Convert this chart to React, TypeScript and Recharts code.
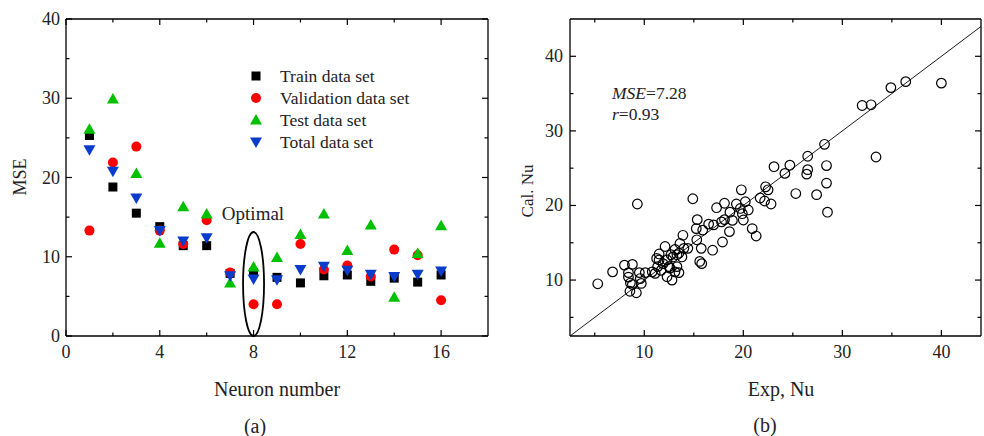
import React from 'react';
import { ScatterChart, Scatter, XAxis, YAxis, ReferenceDot, ReferenceLine } from 'recharts';

// (a) MSE vs neuron number
const neurons = [1, 2, 3, 4, 5, 6, 7, 8, 9, 10, 11, 12, 13, 14, 15, 16];
const trainMse = [25.3, 18.8, 15.5, 13.8, 11.4, 11.4, 7.9, 8.0, 7.4, 6.7, 7.6, 7.7, 6.9, 7.3, 6.8, 7.7];
const validationMse = [13.3, 21.9, 23.9, 13.3, 11.6, 14.6, 8.0, 4.0, 4.0, 11.6, 8.4, 8.9, 7.5, 10.9, 10.2, 4.5];
const testMse = [26.1, 29.9, 20.5, 11.7, 16.3, 15.4, 6.7, 8.7, 9.9, 12.8, 15.4, 10.8, 14.0, 4.9, 10.4, 13.9];
const totalMse = [23.5, 20.8, 17.4, 13.3, 12.0, 12.4, 7.6, 7.2, 7.1, 8.4, 8.8, 8.3, 7.8, 7.5, 7.8, 8.2];
const seriesNames = ['Train data set', 'Validation data set', 'Test data set', 'Total data set'];
const neuronTicks = [0, 2, 4, 6, 8, 10, 12, 14, 16];
const mseTicks = [0, 5, 10, 15, 20, 25, 30, 35, 40];
const optimalNeuron = 8;
const optimalMse = 6.56;

// (b) calculated vs experimental Nu
const expNu = [5.3, 6.8, 8.0, 8.8, 8.4, 9.5, 8.6, 8.55, 9.2, 8.8, 9.7, 9.3, 10.1, 11.1, 11.35, 11.5, 11.25, 12.1, 12.3, 12.3,
  12.6, 12.8, 13.1, 13.5, 13.3, 12.9, 13.1, 13.6, 13.9, 13.8, 13.5, 14.4, 15.3, 15.6, 15.8, 15.75, 15.25, 15.35, 15.9, 14.9,
  16.5, 16.9, 17.3, 17.9, 17.8, 18.1, 18.6, 18.65, 18.9, 18.1, 19.8, 19.7, 20.0, 20.2, 20.5, 19.9, 20.9, 21.3, 21.7, 22.15,
  22.25, 22.5, 22.8, 23.1, 24.2, 24.7, 25.3, 26.5, 26.5, 26.4, 27.4, 28.2, 28.4, 28.4, 28.5, 32.0, 32.9, 33.4, 34.9, 36.4,
  40.0, 11.7, 11.9, 12.5, 12.7, 14.0, 11.5, 10.8, 13.3, 8.4, 9.6, 17.0, 19.3];
const calNu = [9.5, 11.1, 12.0, 12.1, 11.0, 11.0, 9.6, 8.5, 8.3, 9.4, 9.55, 20.2, 11.0, 10.9, 11.8, 13.5, 12.9, 14.5, 12.7, 10.45,
  11.6, 10.0, 11.1, 11.0, 11.8, 13.1, 14.1, 14.9, 16.0, 13.1, 13.6, 14.25, 15.4, 12.5, 12.2, 14.25, 16.9, 18.1, 16.7, 20.9,
  17.5, 14.0, 19.7, 15.1, 17.8, 20.3, 16.5, 19.1, 18.0, 18.1, 22.1, 19.6, 18.05, 20.5, 19.4, 18.9, 16.9, 15.9, 21.0, 20.6,
  22.5, 22.1, 20.2, 25.2, 24.3, 25.4, 21.6, 26.6, 24.8, 24.2, 21.45, 28.2, 25.35, 23.0, 19.1, 33.4, 33.5, 26.5, 35.8, 36.6,
  36.4, 11.3, 12.2, 11.8, 13.4, 14.25, 12.7, 11.1, 13.4, 10.4, 10.2, 17.4, 20.2];
const nuTicks = [5, 10, 15, 20, 25, 30, 35, 40];

const FONT = '"Liberation Serif", "Times New Roman", serif';
const colors = ['#000000', '#ff0000', '#00c000', '#0a3ccc'];

type Side = 'bottom' | 'top' | 'left' | 'right';

function makeTick(side: Side, gap: number, isMajor: (v: number) => boolean, withLabel: boolean) {
  return function AxisTick(props: any) {
    const { x, y, payload } = props;
    const v = Number(payload.value);
    const big = isMajor(v);
    const len = big ? 6 : 3.5;
    let line = null;
    let label = null;
    const textStyle = { fontFamily: FONT, fontSize: 18, fill: '#222' };
    if (side === 'bottom') {
      const ay = y - gap;
      line = <line x1={x} x2={x} y1={ay} y2={ay - len} stroke="#000" strokeWidth={1.2} />;
      if (withLabel && big) label = <text x={x} y={y} textAnchor="middle" dominantBaseline="central" style={textStyle}>{v}</text>;
    } else if (side === 'top') {
      const ay = y + gap;
      line = <line x1={x} x2={x} y1={ay} y2={ay + len} stroke="#000" strokeWidth={1.2} />;
    } else if (side === 'left') {
      const ax = x + gap;
      line = <line x1={ax} x2={ax + len} y1={y} y2={y} stroke="#000" strokeWidth={1.2} />;
      if (withLabel && big) label = <text x={x} y={y} textAnchor="end" dominantBaseline="central" style={textStyle}>{v}</text>;
    } else {
      const ax = x - gap;
      line = <line x1={ax} x2={ax - len} y1={y} y2={y} stroke="#000" strokeWidth={1.2} />;
    }
    return (
      <g>
        {line}
        {label}
      </g>
    );
  };
}

const every4 = (v: number) => v % 4 === 0;
const every10 = (v: number) => v % 10 === 0;

const axisLine = { stroke: '#000', strokeWidth: 1.3 };

// marker shapes
function Square(p: any) {
  return <rect x={p.cx - 4.5} y={p.cy - 4.5} width={9} height={9} fill={colors[0]} />;
}
function Dot(p: any) {
  return <circle cx={p.cx} cy={p.cy} r={5} fill={colors[1]} />;
}
function TriUp(p: any) {
  const { cx, cy } = p;
  return <polygon points={`${cx},${cy - 6} ${cx + 6},${cy + 4.5} ${cx - 6},${cy + 4.5}`} fill={colors[2]} />;
}
function TriDown(p: any) {
  const { cx, cy } = p;
  return <polygon points={`${cx - 6},${cy - 4.5} ${cx + 6},${cy - 4.5} ${cx},${cy + 6}`} fill={colors[3]} />;
}
const shapes = [Square, Dot, TriUp, TriDown];

function OpenCircle(p: any) {
  return <circle cx={p.cx} cy={p.cy} r={4.8} fill="none" stroke="#000" strokeWidth={1.2} />;
}

function OptimalRing(p: any) {
  return <ellipse cx={p.cx} cy={p.cy} rx={10.5} ry={52} fill="none" stroke="#000" strokeWidth={1.8} />;
}

const mseSeries = [trainMse, validationMse, testMse, totalMse].map((vals) =>
  neurons.map((n, i) => ({ x: n, y: vals[i] }))
);
const nuPoints = expNu.map((e, i) => ({ x: e, y: calNu[i] }));

function TextAt({ x, y, size, rotate, children, anchor }: any) {
  const tx = anchor === 'start' ? '0' : '-50%';
  return (
    <div
      style={{
        position: 'absolute',
        left: x,
        top: y,
        transform: `translate(${tx}, -50%)${rotate ? ` rotate(${rotate}deg)` : ''}`,
        fontFamily: FONT,
        fontSize: size,
        color: '#222',
        whiteSpace: 'nowrap',
        lineHeight: 1,
      }}
    >
      {children}
    </div>
  );
}

function MseChart() {
  return (
    <div style={{ position: 'absolute', left: 0, top: 0, width: 500, height: 436 }}>
      <ScatterChart width={500} height={436} margin={{ top: 18, right: 11, bottom: 70, left: 26 }}>
        <XAxis xAxisId="b" dataKey="x" type="number" domain={[0, 18]} allowDataOverflow ticks={neuronTicks} interval={0}
          orientation="bottom" height={30} tickSize={0} tickMargin={16} tickLine={false} axisLine={axisLine}
          tick={makeTick('bottom', 16, every4, true)} />
        <XAxis xAxisId="t" dataKey="x" type="number" domain={[0, 18]} allowDataOverflow ticks={neuronTicks} interval={0}
          orientation="top" height={1} tickSize={0} tickMargin={0} tickLine={false} axisLine={axisLine}
          tick={makeTick('top', 0, every4, false)} />
        <YAxis yAxisId="l" dataKey="y" type="number" domain={[0, 40]} allowDataOverflow ticks={mseTicks} interval={0}
          orientation="left" width={40} tickSize={0} tickMargin={6} tickLine={false} axisLine={axisLine}
          tick={makeTick('left', 6, every10, true)} />
        <YAxis yAxisId="r" dataKey="y" type="number" domain={[0, 40]} allowDataOverflow ticks={mseTicks} interval={0}
          orientation="right" width={1} tickSize={0} tickMargin={0} tickLine={false} axisLine={axisLine}
          tick={makeTick('right', 0, every10, false)} />
        {mseSeries.map((data, i) => (
          <Scatter key={seriesNames[i]} name={seriesNames[i]} data={data} xAxisId="b" yAxisId="l"
            shape={shapes[i]} isAnimationActive={false} />
        ))}
        <ReferenceDot xAxisId="b" yAxisId="l" x={optimalNeuron} y={optimalMse} shape={OptimalRing} ifOverflow="visible" />
      </ScatterChart>
      {/* legend */}
      <div style={{ position: 'absolute', left: 247, top: 65 }}>
        {seriesNames.map((name, i) => {
          const Shape = shapes[i];
          return (
            <div key={name} style={{ display: 'flex', alignItems: 'center', height: 22 }}>
              <svg width={18} height={18}>
                <Shape cx={9} cy={9} />
              </svg>
              <span style={{ marginLeft: 15, fontFamily: FONT, fontSize: 17.5, color: '#222' }}>{name}</span>
            </div>
          );
        })}
      </div>
      <TextAt x={253} y={213} size={19}>Optimal</TextAt>
      <TextAt x={20} y={177} size={18} rotate={-90}>MSE</TextAt>
      <TextAt x={277} y={389} size={20}>Neuron number</TextAt>
      <TextAt x={255} y={426} size={20}>(a)</TextAt>
    </div>
  );
}

function NuChart() {
  return (
    <div style={{ position: 'absolute', left: 490, top: 0, width: 494, height: 436 }}>
      <ScatterChart width={494} height={436} margin={{ top: 18, right: 2, bottom: 70, left: 30 }}>
        <XAxis xAxisId="b" dataKey="x" type="number" domain={[2.5, 44]} allowDataOverflow ticks={nuTicks} interval={0}
          orientation="bottom" height={30} tickSize={0} tickMargin={16} tickLine={false} axisLine={axisLine}
          tick={makeTick('bottom', 16, every10, true)} />
        <XAxis xAxisId="t" dataKey="x" type="number" domain={[2.5, 44]} allowDataOverflow ticks={nuTicks} interval={0}
          orientation="top" height={1} tickSize={0} tickMargin={0} tickLine={false} axisLine={axisLine}
          tick={makeTick('top', 0, every10, false)} />
        <YAxis yAxisId="l" dataKey="y" type="number" domain={[2.5, 45]} allowDataOverflow ticks={nuTicks} interval={0}
          orientation="left" width={50} tickSize={0} tickMargin={7} tickLine={false} axisLine={axisLine}
          tick={makeTick('left', 7, every10, true)} />
        <YAxis yAxisId="r" dataKey="y" type="number" domain={[2.5, 45]} allowDataOverflow ticks={nuTicks} interval={0}
          orientation="right" width={1} tickSize={0} tickMargin={0} tickLine={false} axisLine={axisLine}
          tick={makeTick('right', 0, every10, false)} />
        <ReferenceLine xAxisId="b" yAxisId="l" segment={[{ x: 2.5, y: 2.5 }, { x: 44, y: 44 }]}
          stroke="#000" strokeWidth={0.9} ifOverflow="hidden" />
        <Scatter name="Nu" data={nuPoints} xAxisId="b" yAxisId="l" shape={OpenCircle} isAnimationActive={false} />
      </ScatterChart>
      <TextAt x={122} y={94} size={17.5} anchor="start">
        <i>MSE</i>=7.28
      </TextAt>
      <TextAt x={122} y={115} size={17.5} anchor="start">
        <i>r</i>=0.93
      </TextAt>
      <TextAt x={37} y={191} size={17} rotate={-90}>Cal. Nu</TextAt>
      <TextAt x={291} y={389} size={20}>Exp, Nu</TextAt>
      <TextAt x={275} y={425} size={20}>(b)</TextAt>
    </div>
  );
}

export default function App() {
  return (
    <div style={{ position: 'absolute', left: 0, top: 0, width: 984, height: 436, background: '#fff', overflow: 'hidden' }}>
      <MseChart />
      <NuChart />
    </div>
  );
}
